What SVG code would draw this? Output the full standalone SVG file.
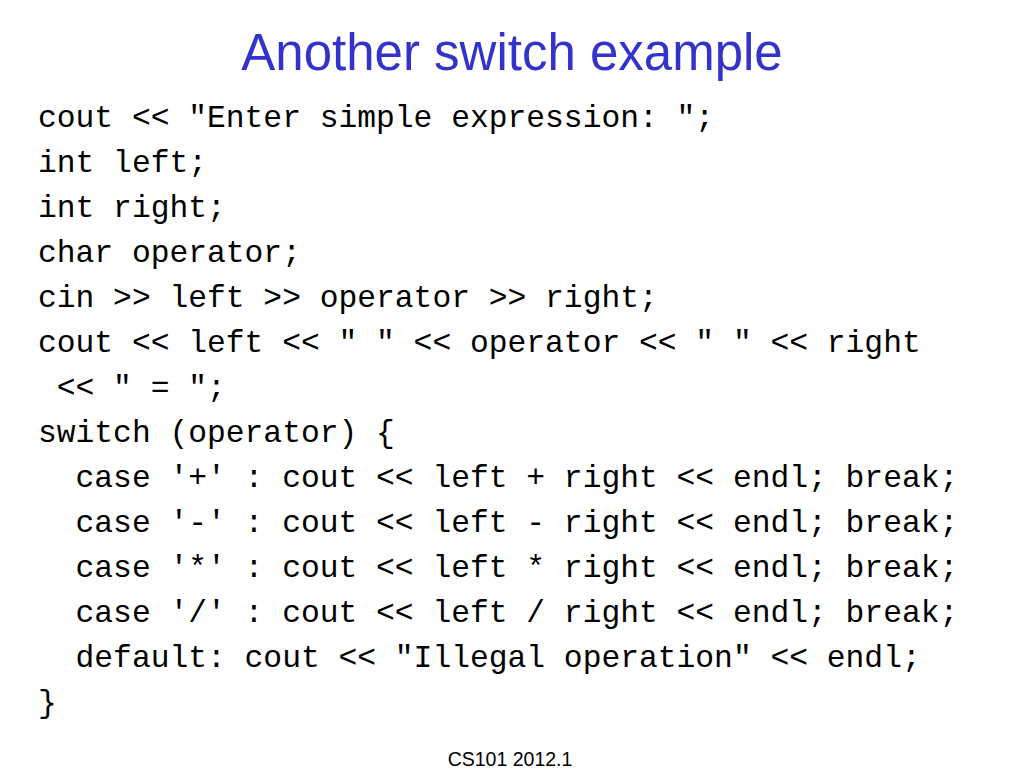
<svg xmlns="http://www.w3.org/2000/svg" width="1024" height="768" viewBox="0 0 1024 768">
<style>
.title{font-family:"Liberation Sans",Arial,sans-serif;font-size:51px;fill:#3333CC;text-anchor:middle}
.code{font-family:"Liberation Mono","DejaVu Sans Mono",monospace;font-size:31.3px;fill:#000;white-space:pre}
.foot{font-family:"Liberation Sans",Arial,sans-serif;font-size:19.5px;fill:#000;text-anchor:middle}
</style>
<rect width="1024" height="768" fill="#fff"/>
<text class="title" x="512" y="70">Another switch example</text>
<g id="code" xml:space="preserve">
<text class="code" x="38" y="127">cout &lt;&lt; "Enter simple expression: ";</text>
<text class="code" x="38" y="172">int left;</text>
<text class="code" x="38" y="217">int right;</text>
<text class="code" x="38" y="262">char operator;</text>
<text class="code" x="38" y="307">cin &gt;&gt; left &gt;&gt; operator &gt;&gt; right;</text>
<text class="code" x="38" y="352">cout &lt;&lt; left &lt;&lt; " " &lt;&lt; operator &lt;&lt; " " &lt;&lt; right</text>
<text class="code" x="38" y="397"> &lt;&lt; " = ";</text>
<text class="code" x="38" y="442">switch (operator) {</text>
<text class="code" x="38" y="487">  case '+' : cout &lt;&lt; left + right &lt;&lt; endl; break;</text>
<text class="code" x="38" y="532">  case '-' : cout &lt;&lt; left - right &lt;&lt; endl; break;</text>
<text class="code" x="38" y="577">  case '*' : cout &lt;&lt; left * right &lt;&lt; endl; break;</text>
<text class="code" x="38" y="622">  case '/' : cout &lt;&lt; left / right &lt;&lt; endl; break;</text>
<text class="code" x="38" y="667">  default: cout &lt;&lt; "Illegal operation" &lt;&lt; endl;</text>
<text class="code" x="38" y="712">}</text>
</g>
<text class="foot" x="510" y="766">CS101 2012.1</text>
</svg>
